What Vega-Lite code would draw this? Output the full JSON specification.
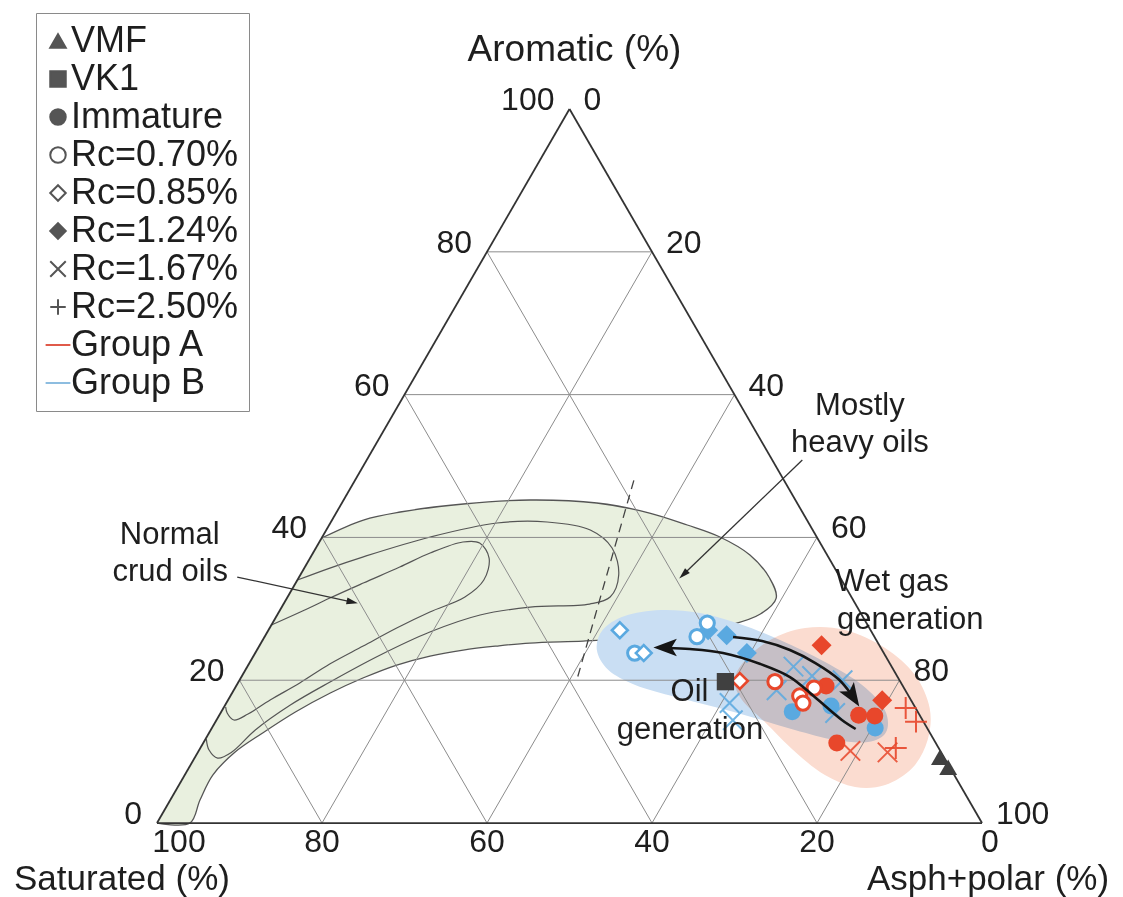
{
"$schema":"https://vega.github.io/schema/vega-lite/v6.json",
"width":1123,"height":897,"padding":0,"autosize":{"type":"none"},"background":"white",
"config":{"view":{"stroke":null},"font":"Liberation Sans"},
"datasets":{
"pts":[
{"g":"B","t":"Rc=0.85%","aro":27.0,"asp":42.6},
{"g":"B","t":"Rc=0.70%","aro":23.8,"asp":46.0},
{"g":"B","t":"Rc=0.85%","aro":23.8,"asp":47.1},
{"g":"B","t":"Rc=1.24%","aro":27.0,"asp":53.3},
{"g":"B","t":"Rc=0.70%","aro":26.1,"asp":52.4},
{"g":"B","t":"Rc=0.70%","aro":28.0,"asp":52.7},
{"g":"B","t":"Rc=1.24%","aro":26.3,"asp":55.9},
{"g":"B","t":"Rc=1.24%","aro":23.8,"asp":59.6},
{"g":"B","t":"Rc=1.67%","aro":21.9,"asp":66.2},
{"g":"B","t":"Rc=1.67%","aro":18.6,"asp":65.8},
{"g":"B","t":"Rc=1.67%","aro":20.6,"asp":69.1},
{"g":"B","t":"Rc=1.67%","aro":20.0,"asp":73.1},
{"g":"B","t":"Rc=1.67%","aro":16.8,"asp":61.0},
{"g":"B","t":"Rc=1.67%","aro":14.4,"asp":62.6},
{"g":"B","t":"Rc=1.67%","aro":15.4,"asp":74.5},
{"g":"B","t":"Immature","aro":15.6,"asp":69.2},
{"g":"B","t":"Immature","aro":16.4,"asp":73.5},
{"g":"B","t":"Immature","aro":13.3,"asp":80.4},
{"g":"A","t":"Rc=0.85%","aro":19.9,"asp":60.7},
{"g":"A","t":"Rc=0.70%","aro":19.8,"asp":65.0},
{"g":"A","t":"Rc=0.70%","aro":17.8,"asp":69.0},
{"g":"A","t":"Rc=0.70%","aro":16.8,"asp":69.9},
{"g":"A","t":"Rc=0.70%","aro":18.9,"asp":70.2},
{"g":"A","t":"Immature","aro":19.2,"asp":71.5},
{"g":"A","t":"Rc=1.24%","aro":24.9,"asp":68.1},
{"g":"A","t":"Immature","aro":15.1,"asp":77.5},
{"g":"A","t":"Immature","aro":15.0,"asp":79.5},
{"g":"A","t":"Rc=1.24%","aro":17.2,"asp":79.3},
{"g":"A","t":"Immature","aro":11.2,"asp":76.8},
{"g":"A","t":"Rc=1.67%","aro":10.1,"asp":79.0},
{"g":"A","t":"Rc=2.50%","aro":16.1,"asp":82.7},
{"g":"A","t":"Rc=2.50%","aro":14.2,"asp":84.9},
{"g":"A","t":"Rc=1.67%","aro":9.9,"asp":83.6},
{"g":"A","t":"Rc=2.50%","aro":10.5,"asp":84.3},
{"g":"K","t":"VK1","aro":19.8,"asp":59.0},
{"g":"K","t":"VMF","aro":9.2,"asp":90.3},
{"g":"K","t":"VMF","aro":7.8,"asp":92.0}
],
"green":[
{"i":1,"aro":0,"asp":0},{"i":2,"aro":0,"asp":4.0},{"i":3,"aro":3.22,"asp":3.6},{"i":4,"aro":6.72,"asp":3.4},
{"i":5,"aro":9.94,"asp":4.5},{"i":6,"aro":12.61,"asp":6.5},{"i":7,"aro":15.55,"asp":9.0},{"i":8,"aro":18.21,"asp":11.9},
{"i":9,"aro":20.31,"asp":14.8},{"i":10,"aro":22.13,"asp":18.0},{"i":11,"aro":23.39,"asp":21.4},{"i":12,"aro":24.23,"asp":25.0},
{"i":13,"aro":24.79,"asp":28.8},{"i":14,"aro":25.21,"asp":32.6},{"i":15,"aro":25.49,"asp":38.9},{"i":16,"aro":25.91,"asp":45.6},
{"i":17,"aro":26.75,"asp":51.2},{"i":18,"aro":27.73,"asp":55.6},{"i":19,"aro":29.27,"asp":58.5},{"i":20,"aro":31.51,"asp":59.3},
{"i":21,"aro":34.31,"asp":57.1},{"i":22,"aro":37.54,"asp":53.1},{"i":23,"aro":40.06,"asp":48.2},{"i":24,"aro":41.74,"asp":43.4},
{"i":25,"aro":43.42,"asp":38.0},{"i":26,"aro":44.82,"asp":30.9},{"i":27,"aro":45.24,"asp":22.6},{"i":28,"aro":44.68,"asp":14.8},
{"i":29,"aro":43.56,"asp":7.7},{"i":30,"aro":42.44,"asp":3.8},{"i":31,"aro":39.92,"asp":0}
],
"contours":[
{"c":"c2","i":1,"aro":34.03,"asp":0},{"c":"c2","i":2,"aro":35.71,"asp":3.1},{"c":"c2","i":3,"aro":37.25,"asp":6.3},{"c":"c2","i":4,"aro":40.06,"asp":13.1},
{"c":"c2","i":5,"aro":42.02,"asp":20.2},{"c":"c2","i":6,"aro":42.16,"asp":26.2},{"c":"c2","i":7,"aro":41.04,"asp":32.0},{"c":"c2","i":8,"aro":38.52,"asp":35.9},
{"c":"c2","i":9,"aro":34.73,"asp":38.6},{"c":"c2","i":10,"aro":31.65,"asp":39.1},{"c":"c2","i":11,"aro":30.67,"asp":37.1},{"c":"c2","i":12,"aro":30.25,"asp":30.1},
{"c":"c2","i":13,"aro":29.13,"asp":24.6},{"c":"c2","i":14,"aro":26.75,"asp":19.7},{"c":"c2","i":15,"aro":23.53,"asp":15.3},{"c":"c2","i":16,"aro":19.75,"asp":11.1},
{"c":"c2","i":17,"aro":16.53,"asp":7.9},{"c":"c2","i":18,"aro":13.03,"asp":5.4},{"c":"c2","i":19,"aro":9.94,"asp":4.1},{"c":"c2","i":20,"aro":9.10,"asp":2.8},
{"c":"c2","i":21,"aro":10.22,"asp":1.2},{"c":"c2","i":22,"aro":11.76,"asp":0.1},
{"c":"c3","i":1,"aro":27.73,"asp":0},{"c":"c3","i":2,"aro":29.55,"asp":2.6},{"c":"c3","i":3,"aro":31.51,"asp":5.2},{"c":"c3","i":4,"aro":33.61,"asp":8.2},
{"c":"c3","i":5,"aro":35.85,"asp":11.5},{"c":"c3","i":6,"aro":37.82,"asp":14.2},{"c":"c3","i":7,"aro":39.36,"asp":17.4},{"c":"c3","i":8,"aro":39.22,"asp":19.5},
{"c":"c3","i":9,"aro":37.11,"asp":21.7},{"c":"c3","i":10,"aro":34.03,"asp":22.6},{"c":"c3","i":11,"aro":31.65,"asp":21.5},{"c":"c3","i":12,"aro":29.55,"asp":18.3},
{"c":"c3","i":13,"aro":27.31,"asp":15.4},{"c":"c3","i":14,"aro":24.79,"asp":12.6},{"c":"c3","i":15,"aro":22.27,"asp":9.8},{"c":"c3","i":16,"aro":19.61,"asp":7.5},
{"c":"c3","i":17,"aro":17.23,"asp":5.1},{"c":"c3","i":18,"aro":15.27,"asp":3.4},{"c":"c3","i":19,"aro":14.43,"asp":2.1},{"c":"c3","i":20,"aro":15.41,"asp":0.8},
{"c":"c3","i":21,"aro":16.25,"asp":0.2}
],
"blue":[
{"i":1,"aro":24.23,"asp":41.2},{"i":2,"aro":27.03,"asp":40.5},{"i":3,"aro":28.99,"asp":42.2},{"i":4,"aro":29.83,"asp":46.1},
{"i":5,"aro":29.41,"asp":51.1},{"i":6,"aro":27.87,"asp":56.7},{"i":7,"aro":25.63,"asp":62.7},{"i":8,"aro":22.55,"asp":69.7},
{"i":9,"aro":19.33,"asp":75.8},{"i":10,"aro":15.83,"asp":80.3},{"i":11,"aro":12.75,"asp":82.0},{"i":12,"aro":11.34,"asp":80.5},
{"i":13,"aro":11.62,"asp":76.4},{"i":14,"aro":13.03,"asp":70.8},{"i":15,"aro":14.71,"asp":65.1},{"i":16,"aro":16.25,"asp":59.5},
{"i":17,"aro":17.65,"asp":54.0},{"i":18,"aro":19.33,"asp":48.3},{"i":19,"aro":21.43,"asp":44.0}
],
"red":[
{"i":1,"aro":20.03,"asp":60.0},{"i":2,"aro":22.83,"asp":59.9},{"i":3,"aro":25.63,"asp":61.5},{"i":4,"aro":27.31,"asp":64.9},
{"i":5,"aro":27.03,"asp":69.9},{"i":6,"aro":24.51,"asp":76.0},{"i":7,"aro":20.73,"asp":81.5},{"i":8,"aro":16.11,"asp":85.6},
{"i":9,"aro":11.62,"asp":87.6},{"i":10,"aro":7.70,"asp":87.7},{"i":11,"aro":5.32,"asp":85.6},{"i":12,"aro":5.04,"asp":82.1},
{"i":13,"aro":6.72,"asp":77.6},{"i":14,"aro":9.94,"asp":72.4},{"i":15,"aro":14.15,"asp":66.6},{"i":16,"aro":17.23,"asp":62.3}
],
"grid":[
{"aro1":20,"asp1":0,"aro2":20,"asp2":80},{"aro1":40,"asp1":0,"aro2":40,"asp2":60},{"aro1":60,"asp1":0,"aro2":60,"asp2":40},{"aro1":80,"asp1":0,"aro2":80,"asp2":20},
{"aro1":0,"asp1":20,"aro2":80,"asp2":20},{"aro1":0,"asp1":40,"aro2":60,"asp2":40},{"aro1":0,"asp1":60,"aro2":40,"asp2":60},{"aro1":0,"asp1":80,"aro2":20,"asp2":80},
{"aro1":0,"asp1":80,"aro2":80,"asp2":0},{"aro1":0,"asp1":60,"aro2":60,"asp2":0},{"aro1":0,"asp1":40,"aro2":40,"asp2":0},{"aro1":0,"asp1":20,"aro2":20,"asp2":0}
],
"edges":[
{"aro1":0,"asp1":0,"aro2":0,"asp2":100},{"aro1":0,"asp1":0,"aro2":100,"asp2":0},{"aro1":100,"asp1":0,"aro2":0,"asp2":100}
],
"dash":[{"aro1":48.0,"asp1":33.8,"aro2":20.3,"asp2":40.8}],
"paths":[
{"p":"a1","i":1,"aro":26.05,"asp":56.8},{"p":"a1","i":2,"aro":25.49,"asp":60.6},{"p":"a1","i":3,"aro":24.23,"asp":64.6},
{"p":"a1","i":4,"aro":22.41,"asp":68.6},{"p":"a1","i":5,"aro":20.17,"asp":72.5},{"p":"a1","i":6,"aro":18.07,"asp":75.1},
{"p":"a2","i":1,"aro":13.17,"asp":78.1},{"p":"a2","i":2,"aro":14.43,"asp":75.8},{"p":"a2","i":3,"aro":17.65,"asp":70.9},
{"p":"a2","i":4,"aro":20.45,"asp":66.5},{"p":"a2","i":5,"aro":22.27,"asp":62.0},{"p":"a2","i":6,"aro":23.81,"asp":56.7},
{"p":"a2","i":7,"aro":24.37,"asp":52.4},{"p":"a2","i":8,"aro":24.51,"asp":49.7},
{"p":"s1","i":1,"aro":34.45,"asp":-7.5},{"p":"s1","i":2,"aro":30.95,"asp":8.2},
{"p":"s2","i":1,"aro":50.84,"asp":52.8},{"p":"s2","i":2,"aro":34.80,"asp":46.4}
],
"heads":[
{"h":"a1","aro":17.70,"asp":75.5},{"h":"a2","aro":24.58,"asp":49.3},{"h":"s1","aro":30.95,"asp":8.2},{"h":"s2","aro":34.80,"asp":46.4}
],
"ticksL":[
{"lab":"0","aro":0,"asp":0},{"lab":"20","aro":20,"asp":0},{"lab":"40","aro":40,"asp":0},{"lab":"60","aro":60,"asp":0},{"lab":"80","aro":80,"asp":0},{"lab":"100","aro":100,"asp":0}
],
"ticksR":[
{"lab":"0","aro":100,"asp":0},{"lab":"20","aro":80,"asp":20},{"lab":"40","aro":60,"asp":40},{"lab":"60","aro":40,"asp":60},{"lab":"80","aro":20,"asp":80},{"lab":"100","aro":0,"asp":100}
],
"ticksB":[
{"lab":"80","aro":0,"asp":20},{"lab":"60","aro":0,"asp":40},{"lab":"40","aro":0,"asp":60},{"lab":"20","aro":0,"asp":80}
],
"ends":[
{"lab":"100","aro":0,"asp":0,"k":"left"},{"lab":"0","aro":0,"asp":100,"k":"right"}
],
"titles":[
{"lab":"Aromatic (%)","aro":100,"asp":0,"k":"top"},{"lab":"Saturated (%)","aro":0,"asp":0,"k":"left"},{"lab":"Asph+polar (%)","aro":0,"asp":100,"k":"right"}
],
"notes":[
{"lab":"Normal","aro":40.3,"asp":-18.6},{"lab":"crud oils","aro":35.2,"asp":-16.0},
{"lab":"Mostly","aro":58.4,"asp":56.0},{"lab":"heavy oils","aro":53.2,"asp":58.6},
{"lab":"Wet gas","aro":33.8,"asp":72.2},{"lab":"generation","aro":28.4,"asp":77.1},
{"lab":"Oil","aro":18.3,"asp":55.4},{"lab":"generation","aro":13.0,"asp":58.1}
]
},
"encoding":{
"x":{"field":"x","type":"quantitative","scale":{"domain":[-19.03,117.09],"nice":false,"zero":false},"axis":null},
"y":{"field":"aro","type":"quantitative","scale":{"domain":[-10.36,115.27],"nice":false,"zero":false},"axis":null}
},
"layer":[
{"data":{"name":"green"},"transform":[{"calculate":"datum.asp + datum.aro / 2","as":"x"}],
 "mark":{"type":"line","interpolate":"catmull-rom","fill":"#e9f0df","stroke":"#555555","strokeWidth":1.3},
 "encoding":{"order":{"field":"i","type":"quantitative"}}},
{"data":{"name":"contours"},"transform":[{"calculate":"datum.asp + datum.aro / 2","as":"x"}],
 "mark":{"type":"line","interpolate":"catmull-rom","stroke":"#555555","strokeWidth":1.2},
 "encoding":{"order":{"field":"i","type":"quantitative"},"detail":{"field":"c","type":"nominal"}}},
{"data":{"name":"blue"},"transform":[{"calculate":"datum.asp + datum.aro / 2","as":"x"}],
 "mark":{"type":"line","interpolate":"cardinal-closed","fill":"#c9def3","strokeWidth":0,"strokeOpacity":0},
 "encoding":{"order":{"field":"i","type":"quantitative"}}},
{"data":{"name":"red"},"transform":[{"calculate":"datum.asp + datum.aro / 2","as":"x"}],
 "mark":{"type":"line","interpolate":"cardinal-closed","fill":"#fbdcd0","strokeWidth":0,"strokeOpacity":0,"blend":"multiply"},
 "encoding":{"order":{"field":"i","type":"quantitative"}}},
{"data":{"name":"grid"},"transform":[{"calculate":"datum.asp1 + datum.aro1 / 2","as":"xa"},{"calculate":"datum.asp2 + datum.aro2 / 2","as":"xb"}],
 "mark":{"type":"rule","stroke":"#8c8c8c","strokeWidth":1},
 "encoding":{"x":{"field":"xa","type":"quantitative","scale":{"domain":[-19.03,117.09],"nice":false,"zero":false},"axis":null},
  "y":{"field":"aro1","type":"quantitative","scale":{"domain":[-10.36,115.27],"nice":false,"zero":false},"axis":null},
  "x2":{"field":"xb"},"y2":{"field":"aro2"}}},
{"data":{"name":"dash"},"transform":[{"calculate":"datum.asp1 + datum.aro1 / 2","as":"xa"},{"calculate":"datum.asp2 + datum.aro2 / 2","as":"xb"}],
 "mark":{"type":"rule","stroke":"#444444","strokeWidth":1.3,"strokeDash":[9,6]},
 "encoding":{"x":{"field":"xa","type":"quantitative","scale":{"domain":[-19.03,117.09],"nice":false,"zero":false},"axis":null},
  "y":{"field":"aro1","type":"quantitative","scale":{"domain":[-10.36,115.27],"nice":false,"zero":false},"axis":null},
  "x2":{"field":"xb"},"y2":{"field":"aro2"}}},
{"data":{"name":"edges"},"transform":[{"calculate":"datum.asp1 + datum.aro1 / 2","as":"xa"},{"calculate":"datum.asp2 + datum.aro2 / 2","as":"xb"}],
 "mark":{"type":"rule","stroke":"#333333","strokeWidth":1.8},
 "encoding":{"x":{"field":"xa","type":"quantitative","scale":{"domain":[-19.03,117.09],"nice":false,"zero":false},"axis":null},
  "y":{"field":"aro1","type":"quantitative","scale":{"domain":[-10.36,115.27],"nice":false,"zero":false},"axis":null},
  "x2":{"field":"xb"},"y2":{"field":"aro2"}}},
{"data":{"name":"pts"},"transform":[{"filter":"datum.t === 'Rc=1.67%'"},{"calculate":"datum.asp + datum.aro / 2","as":"x"}],
 "mark":{"type":"point","shape":"M-1,-1L1,1M-1,1L1,-1","filled":false,"size":380,"strokeWidth":2,"opacity":0.85},
 "encoding":{"color":{"field":"g","type":"nominal","scale":{"domain":["A","B","K"],"range":["#e8472b","#5aa9e0","#404040"]},"legend":null}}},
{"data":{"name":"pts"},"transform":[{"filter":"datum.t === 'Rc=2.50%'"},{"calculate":"datum.asp + datum.aro / 2","as":"x"}],
 "mark":{"type":"point","shape":"M0,-1L0,1M-1,0L1,0","filled":false,"size":480,"strokeWidth":2,"opacity":0.9},
 "encoding":{"color":{"field":"g","type":"nominal","scale":{"domain":["A","B","K"],"range":["#e8472b","#5aa9e0","#404040"]},"legend":null}}},
{"data":{"name":"pts"},"transform":[{"filter":"datum.t === 'Rc=1.24%'"},{"calculate":"datum.asp + datum.aro / 2","as":"x"}],
 "mark":{"type":"point","shape":"diamond","filled":true,"size":400,"opacity":1},
 "encoding":{"color":{"field":"g","type":"nominal","scale":{"domain":["A","B","K"],"range":["#e8472b","#5aa9e0","#404040"]},"legend":null}}},
{"data":{"name":"pts"},"transform":[{"filter":"datum.t === 'Immature'"},{"calculate":"datum.asp + datum.aro / 2","as":"x"}],
 "mark":{"type":"point","shape":"circle","filled":true,"size":290,"opacity":1},
 "encoding":{"color":{"field":"g","type":"nominal","scale":{"domain":["A","B","K"],"range":["#e8472b","#5aa9e0","#404040"]},"legend":null}}},
{"data":{"name":"pts"},"transform":[{"filter":"datum.t === 'Rc=0.70%'"},{"calculate":"datum.asp + datum.aro / 2","as":"x"}],
 "mark":{"type":"point","shape":"circle","filled":false,"fill":"white","size":200,"strokeWidth":3,"opacity":1},
 "encoding":{"color":{"field":"g","type":"nominal","scale":{"domain":["A","B","K"],"range":["#e8472b","#5aa9e0","#404040"]},"legend":null}}},
{"data":{"name":"pts"},"transform":[{"filter":"datum.t === 'Rc=0.85%'"},{"calculate":"datum.asp + datum.aro / 2","as":"x"}],
 "mark":{"type":"point","shape":"diamond","filled":false,"fill":"white","size":250,"strokeWidth":2.6,"opacity":1},
 "encoding":{"color":{"field":"g","type":"nominal","scale":{"domain":["A","B","K"],"range":["#e8472b","#5aa9e0","#404040"]},"legend":null}}},
{"data":{"name":"pts"},"transform":[{"filter":"datum.t === 'VK1'"},{"calculate":"datum.asp + datum.aro / 2","as":"x"}],
 "mark":{"type":"point","shape":"square","filled":true,"size":300,"opacity":1},
 "encoding":{"color":{"field":"g","type":"nominal","scale":{"domain":["A","B","K"],"range":["#e8472b","#5aa9e0","#404040"]},"legend":null}}},
{"data":{"name":"pts"},"transform":[{"filter":"datum.t === 'VMF'"},{"calculate":"datum.asp + datum.aro / 2","as":"x"}],
 "mark":{"type":"point","shape":"triangle-up","filled":true,"size":320,"opacity":1},
 "encoding":{"color":{"field":"g","type":"nominal","scale":{"domain":["A","B","K"],"range":["#e8472b","#5aa9e0","#404040"]},"legend":null}}},
{"data":{"name":"paths"},"transform":[{"filter":"datum.p === 'a1' || datum.p === 'a2'"},{"calculate":"datum.asp + datum.aro / 2","as":"x"}],
 "mark":{"type":"line","interpolate":"catmull-rom","stroke":"#151515","strokeWidth":2.6},
 "encoding":{"order":{"field":"i","type":"quantitative"},"detail":{"field":"p","type":"nominal"}}},
{"data":{"name":"paths"},"transform":[{"filter":"datum.p === 's1' || datum.p === 's2'"},{"calculate":"datum.asp + datum.aro / 2","as":"x"}],
 "mark":{"type":"line","stroke":"#333333","strokeWidth":1.3},
 "encoding":{"order":{"field":"i","type":"quantitative"},"detail":{"field":"p","type":"nominal"}}},
{"data":{"name":"heads"},"transform":[{"filter":"datum.h === 'a1'"},{"calculate":"datum.asp + datum.aro / 2","as":"x"}],
 "mark":{"type":"point","shape":"M1,0L-1,-0.75L-0.55,0L-1,0.75Z","filled":true,"fill":"#151515","size":550,"angle":57,"opacity":1,"strokeWidth":0}},
{"data":{"name":"heads"},"transform":[{"filter":"datum.h === 'a2'"},{"calculate":"datum.asp + datum.aro / 2","as":"x"}],
 "mark":{"type":"point","shape":"M1,0L-1,-0.75L-0.55,0L-1,0.75Z","filled":true,"fill":"#151515","size":550,"angle":180,"opacity":1,"strokeWidth":0}},
{"data":{"name":"heads"},"transform":[{"filter":"datum.h === 's1'"},{"calculate":"datum.asp + datum.aro / 2","as":"x"}],
 "mark":{"type":"point","shape":"M1,0L-1,-0.6L-1,0.6Z","filled":true,"fill":"#222222","size":130,"angle":12,"opacity":1,"strokeWidth":0}},
{"data":{"name":"heads"},"transform":[{"filter":"datum.h === 's2'"},{"calculate":"datum.asp + datum.aro / 2","as":"x"}],
 "mark":{"type":"point","shape":"M1,0L-1,-0.6L-1,0.6Z","filled":true,"fill":"#222222","size":130,"angle":136,"opacity":1,"strokeWidth":0}},
{"data":{"name":"ticksL"},"transform":[{"calculate":"datum.asp + datum.aro / 2","as":"x"}],
 "mark":{"type":"text","align":"right","baseline":"middle","dx":-15,"dy":-9,"fontSize":32,"font":"Liberation Sans","fill":"#1e1e1e"},
 "encoding":{"text":{"field":"lab","type":"nominal"}}},
{"data":{"name":"ticksR"},"transform":[{"calculate":"datum.asp + datum.aro / 2","as":"x"}],
 "mark":{"type":"text","align":"left","baseline":"middle","dx":14,"dy":-9,"fontSize":32,"font":"Liberation Sans","fill":"#1e1e1e"},
 "encoding":{"text":{"field":"lab","type":"nominal"}}},
{"data":{"name":"ticksB"},"transform":[{"calculate":"datum.asp + datum.aro / 2","as":"x"}],
 "mark":{"type":"text","align":"center","baseline":"middle","dx":0,"dy":19,"fontSize":32,"font":"Liberation Sans","fill":"#1e1e1e"},
 "encoding":{"text":{"field":"lab","type":"nominal"}}},
{"data":{"name":"ends"},"transform":[{"filter":"datum.k === 'left'"},{"calculate":"datum.asp + datum.aro / 2","as":"x"}],
 "mark":{"type":"text","align":"center","baseline":"middle","dx":22,"dy":19,"fontSize":32,"font":"Liberation Sans","fill":"#1e1e1e"},
 "encoding":{"text":{"field":"lab","type":"nominal"}}},
{"data":{"name":"ends"},"transform":[{"filter":"datum.k === 'right'"},{"calculate":"datum.asp + datum.aro / 2","as":"x"}],
 "mark":{"type":"text","align":"center","baseline":"middle","dx":8,"dy":19,"fontSize":32,"font":"Liberation Sans","fill":"#1e1e1e"},
 "encoding":{"text":{"field":"lab","type":"nominal"}}},
{"data":{"name":"titles"},"transform":[{"filter":"datum.k === 'top'"},{"calculate":"datum.asp + datum.aro / 2","as":"x"}],
 "mark":{"type":"text","align":"center","baseline":"middle","dx":5,"dy":-59,"fontSize":37,"font":"Liberation Sans","fill":"#1e1e1e"},
 "encoding":{"text":{"field":"lab","type":"nominal"}}},
{"data":{"name":"titles"},"transform":[{"filter":"datum.k === 'left'"},{"calculate":"datum.asp + datum.aro / 2","as":"x"}],
 "mark":{"type":"text","align":"center","baseline":"middle","dx":-35,"dy":56,"fontSize":35,"font":"Liberation Sans","fill":"#1e1e1e"},
 "encoding":{"text":{"field":"lab","type":"nominal"}}},
{"data":{"name":"titles"},"transform":[{"filter":"datum.k === 'right'"},{"calculate":"datum.asp + datum.aro / 2","as":"x"}],
 "mark":{"type":"text","align":"center","baseline":"middle","dx":6,"dy":56,"fontSize":35,"font":"Liberation Sans","fill":"#1e1e1e"},
 "encoding":{"text":{"field":"lab","type":"nominal"}}},
{"data":{"name":"notes"},"transform":[{"calculate":"datum.asp + datum.aro / 2","as":"x"}],
 "mark":{"type":"text","align":"center","baseline":"middle","fontSize":31,"font":"Liberation Sans","fill":"#1e1e1e"},
 "encoding":{"text":{"field":"lab","type":"nominal"}}},
{"data":{"values":[]},
 "mark":{"type":"point","filled":true,"opacity":1},
 "encoding":{
  "shape":{"field":"t","type":"nominal",
   "scale":{"domain":["VMF","VK1","Immature","Rc=0.70%","Rc=0.85%","Rc=1.24%","Rc=1.67%","Rc=2.50%","Group A","Group B"],
            "range":["triangle-up","square","circle","circle","diamond","diamond","M-1,-1L1,1M-1,1L1,-1","M0,-1L0,1M-1,0L1,0","M-1.6,0L1.6,0","M-1.6,0L1.6,0"]},
   "legend":{"title":null,"orient":"none","legendX":36,"legendY":13,"padding":10,"strokeColor":"#8a8a8a","fillColor":"white",
     "labelFontSize":36,"labelFont":"Liberation Sans","labelColor":"#1e1e1e","rowPadding":2,"labelOffset":-5,"symbolOffset":-6,"symbolSize":240,"symbolStrokeWidth":2,"labelLimit":400}},
  "fill":{"field":"t","type":"nominal",
   "scale":{"domain":["VMF","VK1","Immature","Rc=0.70%","Rc=0.85%","Rc=1.24%","Rc=1.67%","Rc=2.50%","Group A","Group B"],
            "range":["#555555","#555555","#555555","#ffffff","#ffffff","#555555","transparent","transparent","transparent","transparent"]}},
  "stroke":{"field":"t","type":"nominal",
   "scale":{"domain":["VMF","VK1","Immature","Rc=0.70%","Rc=0.85%","Rc=1.24%","Rc=1.67%","Rc=2.50%","Group A","Group B"],
            "range":["#555555","#555555","#555555","#555555","#555555","#555555","#555555","#555555","#e05a4a","#8dbde0"]}}
 }}
]
}
